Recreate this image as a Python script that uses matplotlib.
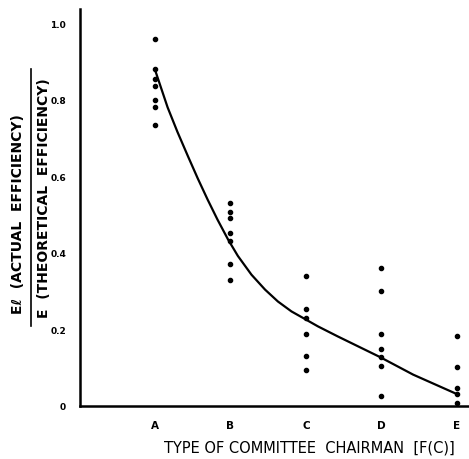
import matplotlib
matplotlib.use("Agg")
import matplotlib.pyplot as plt
from matplotlib.lines import Line2D

# chairman types on the x axis
categories = ["A", "B", "C", "D", "E"]

points_a = [0.958, 0.880, 0.853, 0.835, 0.798, 0.780, 0.733]
points_b = [0.531, 0.508, 0.490, 0.453, 0.432, 0.372, 0.330]
points_c = [0.340, 0.254, 0.230, 0.188, 0.131, 0.094]
points_d = [0.361, 0.301, 0.188, 0.149, 0.128, 0.105, 0.026]
points_e = [0.183, 0.102, 0.047, 0.031, 0.008]

# fitted curve
curve_x = [0.0, 0.09, 0.17, 0.30, 0.44, 0.57, 0.70, 0.83, 0.97, 1.10,
           1.28, 1.46, 1.63, 1.81, 1.99, 2.16, 2.42, 2.98, 3.42, 3.99]
curve_y = [0.880, 0.827, 0.780, 0.716, 0.652, 0.594, 0.539, 0.487, 0.435, 0.392,
           0.343, 0.304, 0.273, 0.247, 0.227, 0.208, 0.182, 0.128, 0.082, 0.032]

y_ticks = [0, 0.2, 0.4, 0.6, 0.8, 1.0]
y_tick_labels = ["0", "0.2", "0.4", "0.6", "0.8", "1.0"]

plt.rcParams['font.family'] = ['DejaVu Sans']

fig = plt.figure(figsize=(4.69, 4.6), dpi=100)
ax = fig.add_axes([80 / 469, 53 / 460, 1 - 80 / 469, 397 / 460])

all_points = [points_a, points_b, points_c, points_d, points_e]
for i, pts in enumerate(all_points):
    ax.plot([i] * len(pts), pts, 'o', color='black', markersize=3.0)

ax.plot(curve_x, curve_y, color='black', linewidth=1.6)

ax.set_xlim(-0.99, 4.16)
ax.set_ylim(0, 1.037)

ax.spines['top'].set_visible(False)
ax.spines['right'].set_visible(False)
ax.spines['left'].set_linewidth(1.8)
ax.spines['bottom'].set_linewidth(1.8)

ax.set_xticks(range(len(categories)))
ax.set_xticklabels(categories, fontsize=7.5, fontweight='bold')
ax.set_yticks(y_ticks)
ax.set_yticklabels(y_tick_labels, fontsize=6.5, fontweight='bold')
ax.tick_params(axis='both', length=0)
ax.tick_params(axis='y', pad=10)
ax.tick_params(axis='x', pad=10)

fig.text(309 / 469, 1 - 448 / 460, "TYPE OF COMMITTEE  CHAIRMAN  [F(C)]",
         ha='center', va='center', fontsize=10.5)

# y label written as a fraction
fig.text(18 / 469, 1 - 214 / 460, "Eℓ  (ACTUAL  EFFICIENCY)", rotation=90,
         ha='center', va='center', fontsize=10, fontweight='bold')
fig.text(44 / 469, 1 - 198 / 460, "E  (THEORETICAL  EFFICIENCY)", rotation=90,
         ha='center', va='center', fontsize=10, fontweight='bold')
fig.add_artist(Line2D([31 / 469, 31 / 469], [1 - 327 / 460, 1 - 70 / 460],
                      color='black', linewidth=1.2))

fig.savefig("out.png", dpi=100)
